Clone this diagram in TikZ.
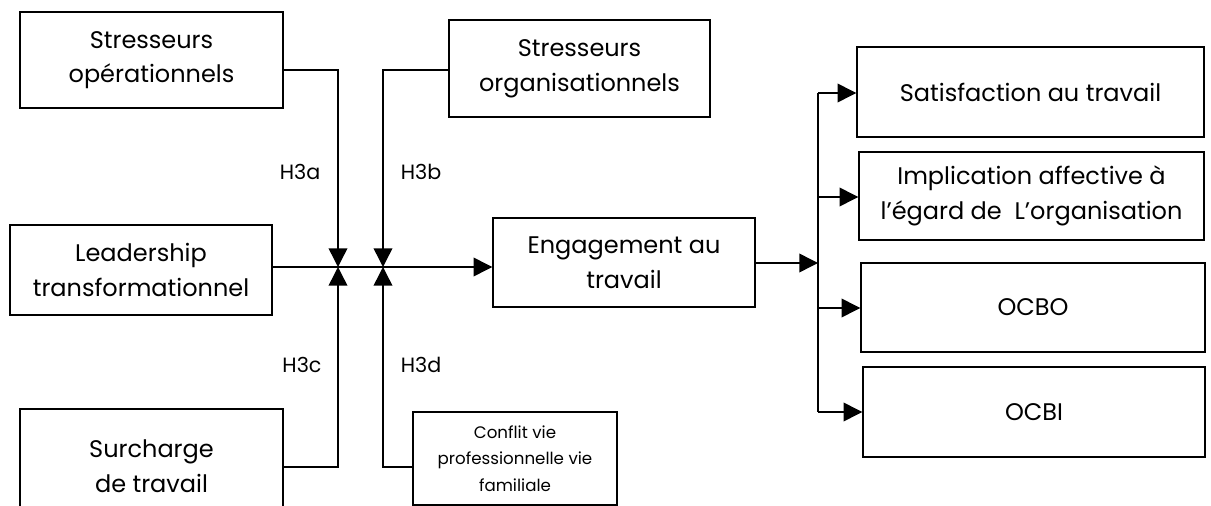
\documentclass[tikz,border=0pt]{standalone}
\usepackage{fontspec}
\setmainfont{Poppins}
\usetikzlibrary{arrows.meta,calc}
\newdimen\pxu \pxu=0.75pt
\tikzset{
  box/.style={draw, line width=1.1pt, align=center, inner sep=0pt,
    font=\fontsize{18}{26}\selectfont},
  smallbox/.style={box, font=\fontsize{12.5}{20}\selectfont},
  hlabel/.style={font=\fontsize{15.5}{18}\selectfont, inner sep=0pt},
  link/.style={line width=1.1pt, -{Triangle[length=14pt,width=14pt]}},
  bus/.style={line width=1.1pt},
}
\begin{document}
\begin{tikzpicture}[x=0.75pt, y=-0.75pt]
\useasboundingbox (0,0) rectangle (1211,506);
% predictor boxes
\node[box, minimum width=263\pxu, minimum height=96\pxu] (so) at (151.5,60) {Stresseurs\\opérationnels};
\node[box, minimum width=262\pxu, minimum height=90\pxu] (lt) at (141,270) {Leadership\\transformationnel};
\node[box, minimum width=263\pxu, minimum height=114\pxu] (sw) at (151.5,466) {Surcharge\\de travail};
\node[box, minimum width=261\pxu, minimum height=97\pxu] (sorg) at (579.5,68.5) {Stresseurs\\organisationnels};
\node[smallbox, minimum width=204\pxu, minimum height=93\pxu] (cv) at (515,458.5) {Conflit vie\\professionnelle vie\\familiale};
% mediator
\node[box, minimum width=262\pxu, minimum height=89\pxu] (eng) at (624,262.5) {Engagement au\\travail};
% outcomes
\node[box, minimum width=347\pxu, minimum height=90\pxu] (sat) at (1030.5,92) {Satisfaction au travail};
\node[box, minimum width=345\pxu, minimum height=88\pxu] (imp) at (1031.5,196) {Implication affective à\\l’égard de \ L’organisation};
\node[box, minimum width=344\pxu, minimum height=89\pxu] (ocbo) at (1033,307.5) {OCBO};
\node[box, minimum width=342\pxu, minimum height=90\pxu] (ocbi) at (1034,412) {OCBI};
% moderation junctions and bus points
\coordinate (j1) at (338,267);
\coordinate (j2) at (383,267);
\coordinate (bt) at (818,93);
\coordinate (bb) at (818,412);
\coordinate (bm) at (818,263);
% hypothesis labels
\node[hlabel] (h3a) at (300,172) {H3a};
\node[hlabel] (h3b) at (421,172) {H3b};
\node[hlabel] (h3c) at (302,365) {H3c};
\node[hlabel] (h3d) at (421,365) {H3d};
% moderator links
\draw[link] (so.east |- 0,70) -| (j1);
\draw[link] (sorg.west |- 0,70) -| (j2);
\draw[link] (sw.east |- 0,467) -| (j1);
\draw[link] (cv.west |- 0,467) -| (j2);
% main path
\draw[link] (lt.east |- j1) -- (eng.west |- j1);
\draw[link] (eng.east |- bm) -- (bm);
\draw[bus] (bt) -- (bb);
\draw[link] (bt) -- (sat.west |- bt);
\draw[link] (bt |- 0,197) -- (imp.west |- 0,197);
\draw[link] (bt |- 0,308) -- (ocbo.west |- 0,308);
\draw[link] (bb) -- (ocbi.west |- bb);
\end{tikzpicture}
\end{document}
